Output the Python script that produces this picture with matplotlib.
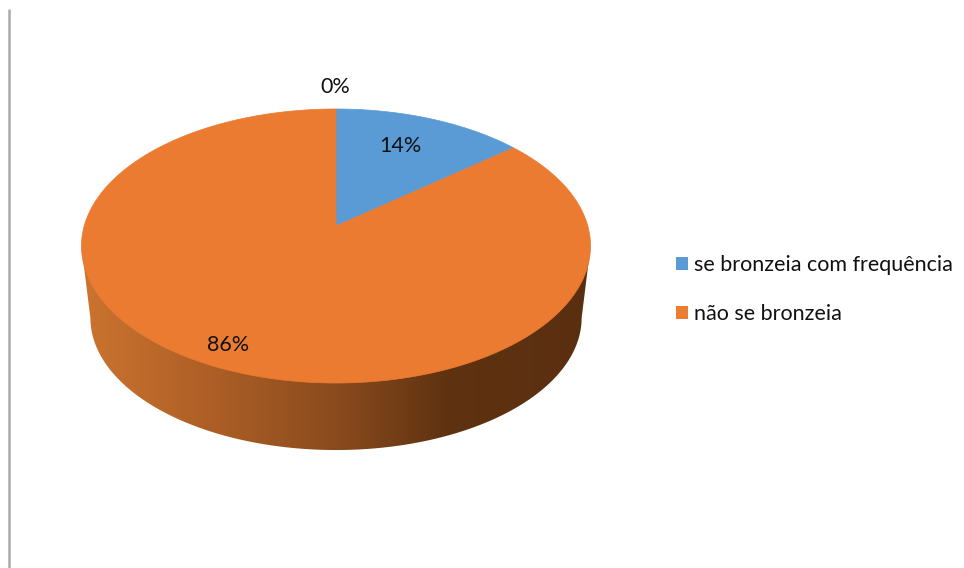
# -*- coding: utf-8 -*-
# 3D style pie chart: share of people who tan often vs. those who do not
import numpy as np
import matplotlib
matplotlib.use("Agg")
import matplotlib.pyplot as plt
from matplotlib.colors import LinearSegmentedColormap
from matplotlib.patches import Patch, Polygon

plt.rcParams['font.family'] = ['Lato', 'DejaVu Sans']

# Data
categories = ['se bronzeia com frequência', 'não se bronzeia']
shares = [14, 86]
zero_share = 0
slice_colors = ['#5B9BD5', '#EA7B31']
legend_colors = ['#5B9BD5', '#ED7D31']

W, H = 964, 568
LABEL_SIZE = 15.5
fig = plt.figure(figsize=(W / 100, H / 100), dpi=100)
ax = fig.add_axes([0, 0, 1, 1])
ax.set_xlim(0, W)
ax.set_ylim(H, 0)
ax.axis('off')

# Tilted disc, projected with perspective (far side is smaller)
CX, CY = 336.0, 226.0
A, B, K = 251.8, 134.1, 0.146


def rim(theta, scale=1.0, drop=0.0):
    # theta runs clockwise from 12 o'clock
    u, v = np.sin(theta), np.cos(theta)
    d = 1 + K * v
    return CX + scale * A * u / d, CY + drop + scale * B * v * -1 / d


# Side wall with a left-to-right shading
wall_cmap = LinearSegmentedColormap.from_list(
    'wall', [(0, '#CC7430'), (0.25, '#AE5F26'), (0.5, '#8A4B1D'),
             (0.72, '#5F3211'), (1, '#5A2F10')])
t = np.linspace(0, 2 * np.pi, 721)
x_top, y_top = rim(t)
x_bot, y_bot = rim(t, 0.965, 72.5)
i_r, i_l = np.argmax(x_top), np.argmin(x_top)
j_r, j_l = np.argmax(x_bot), np.argmin(x_bot)
wall_pts = np.vstack([
    np.column_stack([x_top[i_r], y_top[i_r]]),
    np.column_stack([x_bot[j_r:j_l + 1], y_bot[j_r:j_l + 1]]),
    np.column_stack([x_top[i_l], y_top[i_l]]),
])
wall = Polygon(wall_pts, closed=True, fc='none', ec='none')
ax.add_patch(wall)
grad = ax.imshow(np.linspace(0, 1, 512).reshape(1, -1), cmap=wall_cmap,
                 extent=[x_top.min(), x_top.max(), H, 0], aspect='auto', zorder=1)
grad.set_clip_path(wall)
ax.set_xlim(0, W)
ax.set_ylim(H, 0)

# Top face, one wedge per category
start = 0.0
total = sum(shares) + zero_share
for share, color in zip(shares, slice_colors):
    sweep = 2 * np.pi * share / total
    arc = np.linspace(start, start + sweep, 300)
    xs, ys = rim(arc)
    pts = np.vstack([[CX, CY], np.column_stack([xs, ys])])
    ax.add_patch(Polygon(pts, closed=True, fc=color, ec=color, lw=0.5, zorder=2))
    start += sweep

# Value labels
ax.text(335, 87, f'{zero_share}%', fontsize=LABEL_SIZE, ha='center', va='center', color='#111111', zorder=3)
ax.text(400, 146, f'{shares[0]}%', fontsize=LABEL_SIZE, ha='center', va='center', color='#111111', zorder=3)
ax.text(228, 345, f'{shares[1]}%', fontsize=LABEL_SIZE, ha='center', va='center', color='#111111', zorder=3)

# Thin rule on the left edge
ax.plot([8.5, 8.5], [9, H], color='#ABABAB', lw=1.8, solid_capstyle='butt', zorder=1)

# Legend
handles = [Patch(fc=c, ec='none', label=l) for c, l in zip(legend_colors, categories)]
ax.legend(handles=handles, loc='center left', bbox_to_anchor=(676, 289.5),
          bbox_transform=ax.transData, frameon=False, fontsize=LABEL_SIZE,
          handlelength=0.56, handleheight=0.56, handletextpad=0.28,
          labelspacing=1.32, borderpad=0, borderaxespad=0, labelcolor='#111111')

fig.savefig('out.png', dpi=100)
